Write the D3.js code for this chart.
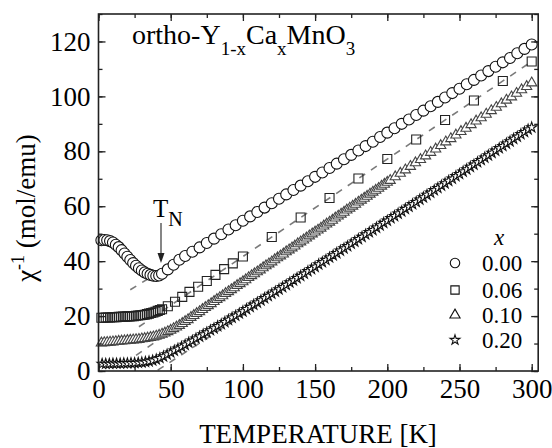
<!DOCTYPE html>
<html><head><meta charset="utf-8">
<script src="https://cdn.jsdelivr.net/npm/d3@7"></script>
<style>
body{margin:0;background:#fff}
text{font-family:"Liberation Serif","Times New Roman","DejaVu Serif",serif;fill:#000}
</style>
</head><body>
<svg id="chart" width="552" height="448"></svg>
<script>
const xTickValues=[0,50,100,150,200,250,300];
const yTickValues=[0,20,40,60,80,100,120];
const legendLabels=["0.00","0.06","0.10","0.20"];

const circles00=[[2,47.6],[4,47.7],[6,47.6],[8,47.3],[10,46.8],[12,46.0],[14,45.1],[16,44.0],[18,42.8],[20,41.6],[22,40.4],[24,39.3],[26,38.3],[28,37.4],[30,36.6],[32,35.9],[34,35.4],[36,35.0],[38,34.7],[40,34.6],[42,34.8],[44,35.4],[48,37.0],[52,38.7],[56,40.5],[60,41.9],[65,43.4],[70,45.0],[75,46.6],[80,48.2],[85,49.8],[90,51.5],[95,53.1],[100,54.7],[105,56.3],[110,57.9],[115,59.5],[120,61.1],[125,62.7],[130,64.3],[135,65.9],[140,67.5],[145,69.1],[150,70.7],[155,72.3],[160,73.9],[165,75.5],[170,77.1],[175,78.7],[180,80.3],[185,81.9],[190,83.5],[195,85.2],[200,86.8],[205,88.4],[210,90.0],[215,91.6],[220,93.2],[225,94.8],[230,96.4],[235,98.0],[240,99.6],[245,101.2],[250,102.8],[255,104.4],[260,106.0],[265,107.6],[270,109.2],[275,110.8],[280,112.4],[285,114.0],[290,115.7],[295,117.3],[300,118.9]];

const squares06=[[2,19.4],[3.5,19.4],[5,19.5],[6.5,19.5],[8,19.5],[9.5,19.6],[11,19.6],[12.5,19.6],[14,19.7],[15.5,19.7],[17,19.8],[18.5,19.8],[20,19.9],[21.5,19.9],[23,20.0],[24.5,20.0],[26,20.1],[27.5,20.2],[29,20.3],[30.5,20.4],[32,20.5],[33.5,20.7],[35,20.9],[36.5,21.1],[38,21.3],[39.5,21.6],[41,21.9],[42.5,22.2],[44,22.5],[48,23.6],[53,25.2],[58,27.0],[63,28.8],[69,30.7],[75,32.8],[81,35.0],[87,37.1],[93,39.2],[100,41.7],[120,48.8],[140,55.9],[160,63.0],[180,70.1],[200,77.2],[220,84.3],[240,91.4],[260,98.5],[280,105.6],[300,112.7]];

const triangles10=[[2,10.2],[4,10.3],[6,10.4],[8,10.5],[10,10.6],[12,10.7],[14,10.8],[16,10.9],[18,11.0],[20,11.1],[22,11.2],[24,11.3],[26,11.4],[28,11.5],[30,11.7],[32,11.8],[34,12.0],[36,12.2],[38,12.4],[40,12.7],[42,13.0],[44,13.4],[46,13.8],[48,14.3],[50,14.8],[52,15.4],[54,16.0],[56,16.6],[58,17.3],[60,18.0],[62,18.7],[64,19.5],[66,20.2],[68,20.9],[70,21.6],[72,22.4],[74,23.1],[76,23.8],[78,24.5],[80,25.3],[82,26.0],[84,26.7],[86,27.4],[88,28.2],[90,28.9],[92,29.6],[94,30.3],[96,31.1],[98,31.8],[100,32.5],[102,33.2],[104,34.0],[106,34.7],[108,35.4],[110,36.1],[112,36.8],[114,37.6],[116,38.3],[118,39.0],[120,39.7],[122,40.5],[124,41.2],[126,41.9],[128,42.6],[130,43.4],[132,44.1],[134,44.8],[136,45.5],[138,46.3],[140,47.0],[142,47.7],[144,48.4],[146,49.2],[148,49.9],[150,50.6],[152,51.3],[154,52.0],[156,52.8],[158,53.5],[160,54.2],[162,54.9],[164,55.7],[166,56.4],[168,57.1],[170,57.8],[172,58.6],[174,59.3],[176,60.0],[178,60.7],[180,61.5],[182,62.2],[184,62.9],[186,63.6],[188,64.4],[190,65.1],[192,65.8],[194,66.5],[196,67.3],[198,68.0],[200,68.7],[202,69.4],[205.5,70.7],[209,72.0],[212.5,73.2],[216,74.5],[219.5,75.8],[223,77.0],[226.5,78.3],[230,79.6],[233.5,80.8],[237,82.1],[240.5,83.4],[244,84.6],[247.5,85.9],[251,87.2],[254.5,88.4],[258,89.7],[261.5,91.0],[265,92.2],[268.5,93.5],[272,94.8],[275.5,96.0],[279,97.3],[282.5,98.6],[286,99.8],[289.5,101.1],[293,102.4],[296.5,103.6],[300,104.9]];

const stars20=[[2.5,2.6],[5,2.6],[7.5,2.6],[10,2.7],[12.5,2.7],[15,2.7],[17.5,2.8],[20,2.8],[22.5,2.9],[25,2.9],[27.5,3.0],[30,3.1],[32.5,3.3],[35,3.5],[37.5,3.8],[40,4.2],[42.5,4.7],[45,5.3],[47.5,6.0],[50,6.7],[52.5,7.4],[55,8.1],[57.5,8.8],[60,9.5],[62.5,10.3],[65,11.0],[67.5,11.8],[70,12.5],[72.5,13.3],[75,14.0],[77.5,14.8],[80,15.5],[82.5,16.3],[85,17.0],[87.5,17.8],[90,18.6],[92.5,19.4],[95,20.1],[97.5,20.9],[100,21.7],[102.5,22.5],[105,23.3],[107.5,24.1],[110,24.9],[112.5,25.7],[115,26.5],[117.5,27.3],[120,28.1],[122.5,28.9],[125,29.7],[127.5,30.5],[130,31.3],[132.5,32.2],[135,33.0],[137.5,33.8],[140,34.6],[142.5,35.4],[145,36.3],[147.5,37.1],[150,37.9],[152.5,38.8],[155,39.6],[157.5,40.4],[160,41.3],[162.5,42.1],[165,42.9],[167.5,43.8],[170,44.6],[172.5,45.4],[175,46.3],[177.5,47.1],[180,48.0],[182.5,48.8],[185,49.7],[187.5,50.5],[190,51.3],[192.5,52.2],[195,53.0],[197.5,53.9],[200,54.7],[202.5,55.6],[205,56.4],[207.5,57.3],[210,58.1],[212.5,59.0],[215,59.8],[217.5,60.7],[220,61.5],[222.5,62.4],[225,63.2],[227.5,64.1],[230,64.9],[232.5,65.8],[235,66.6],[237.5,67.5],[240,68.3],[242.5,69.2],[245,70.0],[247.5,70.9],[250,71.7],[252.5,72.6],[255,73.4],[257.5,74.3],[260,75.1],[262.5,76.0],[265,76.8],[267.5,77.7],[270,78.5],[272.5,79.4],[275,80.2],[277.5,81.1],[280,81.9],[282.5,82.8],[285,83.6],[287.5,84.5],[290,85.3],[292.5,86.2],[295,87.0],[297.5,87.9],[300,88.7]];

// Curie-Weiss fit lines (dashed), endpoints [T, chi^-1]
const fit00=[[22,29.6],[300,118.9]];
const fit06=[[28,16.1],[300,112.7]];
const fit10=[[26,5.7],[300,104.9]];
const fit20=[[41,0.3],[300,88.4]];

const FONT='"Liberation Serif","Times New Roman","DejaVu Serif",serif';
const svg=d3.select("#chart");
const L=98.5,R=538.2,T=14,B=371;
const x=d3.scaleLinear().domain([0,304.5]).range([L,R]);
const y=d3.scaleLinear().domain([0,130]).range([B,T]);

// fit lines
const line=d3.line().x(d=>x(d[0])).y(d=>y(d[1]));
[fit00,fit06,fit10,fit20].forEach(f=>{
  svg.append("path").attr("d",line(f)).attr("fill","none")
    .attr("stroke","#7a7a7a").attr("stroke-width",1.6).attr("stroke-dasharray","7,7");
});

function drawSeries(data,type,size,stroke,fill,sw){
  const sym=d3.symbol().type(type).size(size);
  svg.append("g").selectAll("path").data(data).join("path")
    .attr("transform",d=>`translate(${x(d[0])},${y(d[1])})`)
    .attr("d",sym()).attr("fill",fill).attr("stroke",stroke).attr("stroke-width",sw);
}
drawSeries(circles00,d3.symbolCircle,95,"#111","#fff",1.1);
drawSeries(squares06,d3.symbolSquare,81,"#222","none",1.1);
drawSeries(triangles10,d3.symbolTriangle,45,"#444","#fff",1.1);
drawSeries(stars20,d3.symbolStar,32,"#111","#fff",1.1);

// axes
const fs=27;
const xMinor=d3.range(0,305,25), yMinor=d3.range(0,131,10);
function styleAxis(g){g.attr("font-family",FONT);g.select(".domain").remove();g.selectAll("line").attr("stroke","#222").attr("stroke-width",1.3);
  g.selectAll("text").style("font-size",fs+"px").style("font-family",FONT).attr("fill","#000");}
svg.append("g").attr("transform",`translate(0,${B})`)
  .call(d3.axisBottom(x).tickValues(xTickValues).tickSize(-7).tickPadding(8).tickFormat(d3.format("d"))).call(styleAxis);
svg.append("g").attr("transform",`translate(0,${B})`)
  .call(d3.axisBottom(x).tickValues(xMinor).tickSize(-4).tickFormat("")).call(styleAxis);
svg.append("g").attr("transform",`translate(0,${T})`)
  .call(d3.axisTop(x).tickValues(xTickValues).tickSize(-7).tickFormat("")).call(styleAxis);
svg.append("g").attr("transform",`translate(0,${T})`)
  .call(d3.axisTop(x).tickValues(xMinor).tickSize(-4).tickFormat("")).call(styleAxis);
svg.append("g").attr("transform",`translate(${L},0)`)
  .call(d3.axisLeft(y).tickValues(yTickValues).tickSize(-7).tickPadding(8).tickFormat(d3.format("d"))).call(styleAxis);
svg.append("g").attr("transform",`translate(${L},0)`)
  .call(d3.axisLeft(y).tickValues(yMinor).tickSize(-4).tickFormat("")).call(styleAxis);
svg.append("g").attr("transform",`translate(${R},0)`)
  .call(d3.axisRight(y).tickValues(yTickValues).tickSize(-7).tickFormat("")).call(styleAxis);
svg.append("g").attr("transform",`translate(${R},0)`)
  .call(d3.axisRight(y).tickValues(yMinor).tickSize(-4).tickFormat("")).call(styleAxis);
svg.append("rect").attr("x",L).attr("y",T).attr("width",R-L).attr("height",B-T)
  .attr("fill","none").attr("stroke","#222").attr("stroke-width",1.6);

// axis titles
svg.append("text").attr("x",318).attr("y",443).attr("text-anchor","middle")
  .style("font-size","27px").text("TEMPERATURE [K]");
const yl=svg.append("text").attr("transform","translate(35,208) rotate(-90)").attr("text-anchor","middle").style("font-size","27px");
yl.append("tspan").text("χ");
yl.append("tspan").attr("dy",-11).style("font-size","18px").text("-1");
yl.append("tspan").attr("dy",11).text(" (mol/emu)");

// title
const tt=svg.append("text").attr("x",132).attr("y",44).style("font-size","28px");
tt.append("tspan").text("ortho-Y");
tt.append("tspan").attr("dy",11).style("font-size","19px").text("1-x");
tt.append("tspan").attr("dy",-11).text("Ca");
tt.append("tspan").attr("dy",11).style("font-size","19px").text("x");
tt.append("tspan").attr("dy",-11).text("MnO");
tt.append("tspan").attr("dy",11).style("font-size","19px").text("3");

// T_N annotation
const tn=svg.append("text").attr("x",153).attr("y",217).style("font-size","25px");
tn.append("tspan").text("T");
tn.append("tspan").attr("dy",9).style("font-size","20px").text("N");
svg.append("line").attr("x1",161).attr("x2",161).attr("y1",223).attr("y2",255).attr("stroke","#222").attr("stroke-width",1.1);
svg.append("path").attr("d","M157.5,253 L164.5,253 L161,263 Z").attr("fill","#222");

// legend
svg.append("text").attr("x",499).attr("y",245).attr("text-anchor","middle")
  .style("font-size","23px").style("font-style","italic").text("x");
const legTypes=[[d3.symbolCircle,70],[d3.symbolSquare,69],[d3.symbolTriangle,45],[d3.symbolStar,30]];
const legRows=[263,290,315,340];
legendLabels.forEach((lab,i)=>{
  svg.append("path").attr("transform",`translate(455,${legRows[i]})`)
    .attr("d",d3.symbol().type(legTypes[i][0]).size(legTypes[i][1])()).attr("fill","none").attr("stroke","#111").attr("stroke-width",1.1);
  svg.append("text").attr("x",482).attr("y",legRows[i]+8).style("font-size","23px").text(lab);
});
</script>
</body></html>
